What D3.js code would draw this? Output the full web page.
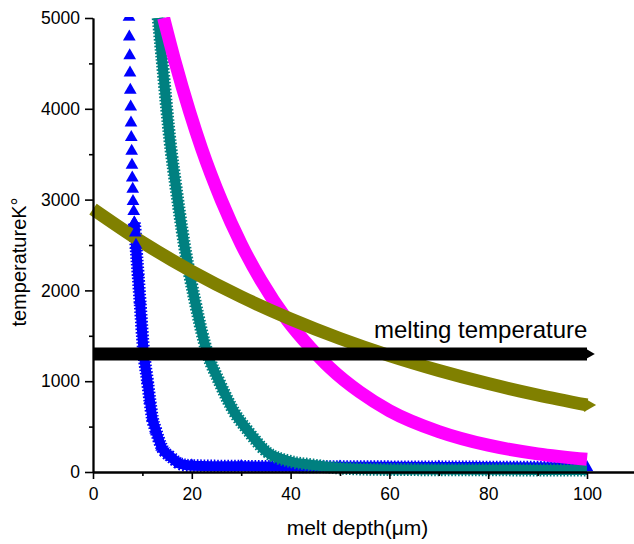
<!DOCTYPE html>
<html>
<head>
<meta charset="utf-8">
<script src="https://cdn.jsdelivr.net/npm/d3@7"></script>
<style>
  html, body { margin: 0; padding: 0; background: #fff; }
  svg { display: block; font-family: "Liberation Sans", Arial, sans-serif; }
</style>
</head>
<body>
<svg id="chart" width="634" height="544"></svg>
<script>
// Temperature against melt depth for several heating cases.
const blueDepth = [7.29, 7.35, 7.43, 7.49, 7.55, 7.63, 7.69, 7.75, 7.83, 7.89, 7.95, 8.04, 8.10, 8.24, 8.36, 8.56,
                   8.7, 9.1, 9.5, 10.3, 11.0, 11.5, 12.0, 12.7, 13.9, 15.8, 17.6, 20, 30, 50, 70, 100];
const blueTemp  = [5010, 4792, 4587, 4395, 4205, 4021, 3845, 3687, 3533, 3379, 3239, 3115, 2982, 2872, 2743, 2633,
                   2500, 2200, 1894, 1300, 1013, 793, 600, 463, 275, 165, 90, 70, 62, 58, 55, 50];

const tealDepth = [13.2, 14.0, 15.8, 16.6, 18.5, 20.6, 23.2, 25.4, 28.7, 31, 35.2, 40, 44.5, 50, 60, 80, 100];
const tealTemp  = [5000, 4537, 3546, 3216, 2500, 1894, 1300, 1013, 650, 480, 220, 116, 77, 44, 28, 24, 22];

const magentaDepth = [14.3, 16.6, 19.6, 22, 26, 30, 34, 39.3, 44, 48, 54, 60, 70, 80, 90, 100];
const magentaTemp  = [5000, 4520, 3960, 3560, 2990, 2510, 2110, 1674, 1370, 1145, 880, 675, 445, 295, 200, 140];

const oliveDepth = [0, 10, 20, 30, 40, 50, 60, 70, 80, 90, 100];
const oliveTemp  = [2896, 2530, 2210, 1930, 1685, 1470, 1282, 1118, 974, 848, 738];

const meltDepth = [0, 100];
const meltTemp  = [1300, 1300];

const xMajorTicks = [0, 20, 40, 60, 80, 100];
const xMinorTicks = [10, 30, 50, 70, 90];
const yMajorTicks = [0, 1000, 2000, 3000, 4000, 5000];
const yMinorTicks = [500, 1500, 2500, 3500, 4500];

const xLabel = "melt depth(\u03bcm)";
const yLabel = "temperatureK\u00b0";
const meltLabel = "melting temperature";

const zip = (xs, ys) => xs.map((d, i) => [d, ys[i]]);

const svg = d3.select("#chart");
const x = d3.scaleLinear().domain([0, 110]).range([93, 636.4]);
const y = d3.scaleLinear().domain([0, 5000]).range([472, 18]);

svg.append("defs").append("clipPath").attr("id", "plot-clip")
  .append("rect").attr("x", 0).attr("y", 17).attr("width", 634).attr("height", 527);

const plot = svg.append("g").attr("clip-path", "url(#plot-clip)");
const line = d3.line().x(d => x(d[0])).y(d => y(d[1])).curve(d3.curveMonotoneX);

const tri = d3.symbol().type(d3.symbolTriangle).size(70);
const triEnd = d3.symbol().type(d3.symbolTriangle).size(85);

// band drawn as a solid core with a dashed, slightly wider rim for the jagged marker edge
function band(data, color, width, rim) {
  plot.append("path").datum(data).attr("d", line)
    .attr("fill", "none").attr("stroke", color).attr("stroke-width", width);
  if (rim) {
    plot.append("path").datum(data).attr("d", line)
      .attr("fill", "none").attr("stroke", color).attr("stroke-width", width + rim)
      .attr("stroke-dasharray", "1.6 1.8");
  }
}

// blue: separate triangles at high temperature, merging into a band below
const blue = zip(blueDepth, blueTemp);
band(blue.filter(d => d[1] <= 2750), "#0000ff", 10, 3);
function blueMarkers(data) {
  plot.append("g").selectAll("path").data(data).join("path")
    .attr("d", tri)
    .attr("transform", d => `translate(${x(d[0])},${y(d[1])})`)
    .attr("fill", "#0000ff");
}
blueMarkers(blue);

// teal
band(zip(tealDepth, tealTemp), "#008080", 10, 3);

// magenta
band(zip(magentaDepth, magentaTemp), "#ff00ff", 13, 0);

// olive with pointed end
const olive = zip(oliveDepth, oliveTemp);
band(olive, "#808000", 13, 0);
const oLast = olive[olive.length - 1];
plot.append("path").attr("d", triEnd)
  .attr("transform", `translate(${x(oLast[0]) + 1},${y(oLast[1])}) rotate(90)`)
  .attr("fill", "#808000");

// blue triangles that sit over the olive band
blueMarkers(blue.filter(d => d[1] > 2300 && d[1] < 2800));

// melting temperature
const melt = zip(meltDepth, meltTemp);
band(melt, "#000000", 13, 0);
const mLast = melt[melt.length - 1];
plot.append("path").attr("d", d3.symbol().type(d3.symbolTriangle).size(60))
  .attr("transform", `translate(${x(mLast[0]) + 1},${y(mLast[1])}) rotate(90)`)
  .attr("fill", "#000000");

svg.append("text")
  .attr("x", 374).attr("y", 338)
  .attr("font-size", 24).attr("fill", "#000")
  .text(meltLabel);

// axes
const axisStyle = g => {
  g.selectAll("path.domain").attr("stroke", "#000").attr("stroke-width", 1.8);
  g.selectAll(".tick line").attr("stroke", "#000").attr("stroke-width", 1.6);
  g.selectAll(".tick text").attr("fill", "#000").attr("font-size", 17.5)
    .attr("font-family", "Liberation Sans, Arial, sans-serif");
};

svg.append("g").attr("transform", `translate(0,${y(0)})`)
  .call(d3.axisBottom(x).tickValues(xMinorTicks).tickSize(4).tickSizeOuter(0).tickFormat(""))
  .call(axisStyle);
svg.append("g").attr("transform", `translate(0,${y(0)})`)
  .call(d3.axisBottom(x).tickValues(xMajorTicks).tickSize(7).tickSizeOuter(0).tickPadding(9)
    .tickFormat(d3.format("d")))
  .call(axisStyle);

svg.append("g").attr("transform", `translate(${x(0)},0)`)
  .call(d3.axisLeft(y).tickValues(yMinorTicks).tickSize(4).tickSizeOuter(0).tickFormat(""))
  .call(axisStyle);
svg.append("g").attr("transform", `translate(${x(0)},0)`)
  .call(d3.axisLeft(y).tickValues(yMajorTicks).tickSize(8).tickSizeOuter(0).tickPadding(5)
    .tickFormat(d3.format("d")))
  .call(axisStyle);

svg.append("text")
  .attr("x", 357.5).attr("y", 535)
  .attr("text-anchor", "middle").attr("font-size", 21).attr("fill", "#000")
  .text(xLabel);

svg.append("text")
  .attr("transform", "translate(26,262) rotate(-90)")
  .attr("text-anchor", "middle").attr("font-size", 20).attr("fill", "#000")
  .text(yLabel);
</script>
</body>
</html>
